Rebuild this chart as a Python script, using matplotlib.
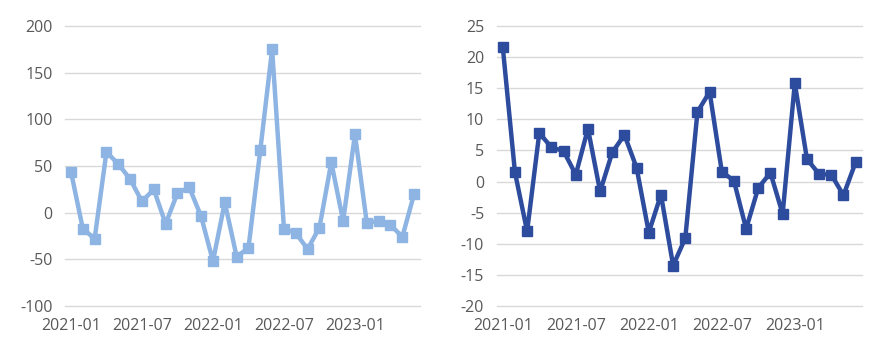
import matplotlib.pyplot as plt

months = ['2021-01', '2021-02', '2021-03', '2021-04', '2021-05', '2021-06',
          '2021-07', '2021-08', '2021-09', '2021-10', '2021-11', '2021-12',
          '2022-01', '2022-02', '2022-03', '2022-04', '2022-05', '2022-06',
          '2022-07', '2022-08', '2022-09', '2022-10', '2022-11', '2022-12',
          '2023-01', '2023-02', '2023-03', '2023-04', '2023-05', '2023-06']

left_values = [44, -17, -28, 65, 52, 36, 12, 25, -12, 21, 27, -4,
               -52, 11, -47, -38, 67, 175, -17, -22, -39, -16, 54, -9,
               84, -11, -9, -13, -26, 20]

right_values = [21.6, 1.5, -8.0, 7.8, 5.5, 4.9, 1.1, 8.5, -1.6, 4.7, 7.5, 2.2,
                -8.2, -2.1, -13.5, -9.1, 11.2, 14.4, 1.6, 0.1, -7.6, -1.0, 1.4, -5.2,
                15.8, 3.6, 1.2, 1.1, -2.2, 3.1]

tick_labels = ['2021-01', '2021-07', '2022-01', '2022-07', '2023-01']

plt.rcParams['font.family'] = ['Open Sans', 'DejaVu Sans']

fig = plt.figure(figsize=(8.86, 3.61), dpi=100)
ax1 = fig.add_axes([0.0734, 0.1524, 0.4007, 0.7756])
ax2 = fig.add_axes([0.5606, 0.1524, 0.4120, 0.7756])


def draw(ax, values, color, ylim, step):
    x = list(range(len(values)))
    ax.plot(x, values, color=color, linewidth=3.2, marker='s',
            markersize=7, zorder=3, clip_on=False)
    ax.set_xlim(-0.5, len(values) - 0.5)
    ax.set_ylim(ylim)
    yt = list(range(ylim[0], ylim[1] + 1, step))
    ax.set_yticks(yt)
    ax.set_yticklabels([str(v) for v in yt])
    ticks = [months.index(t) for t in tick_labels]
    ax.set_xticks(ticks)
    ax.set_xticklabels(tick_labels)
    ax.grid(axis='y', color='#d9d9d9', linewidth=1.0)
    for gl in ax.get_ygridlines():
        gl.set_clip_on(False)
    ax.set_axisbelow(True)
    for s in ax.spines.values():
        s.set_visible(False)
    ax.tick_params(length=0, labelsize=11.5, colors='#595959')
    ax.tick_params(axis='y', pad=9)
    ax.tick_params(axis='x', pad=9)


draw(ax1, left_values, '#8db4e2', (-100, 200), 50)
draw(ax2, right_values, '#2e4c9e', (-20, 25), 5)

fig.savefig('out.png', dpi=100)
